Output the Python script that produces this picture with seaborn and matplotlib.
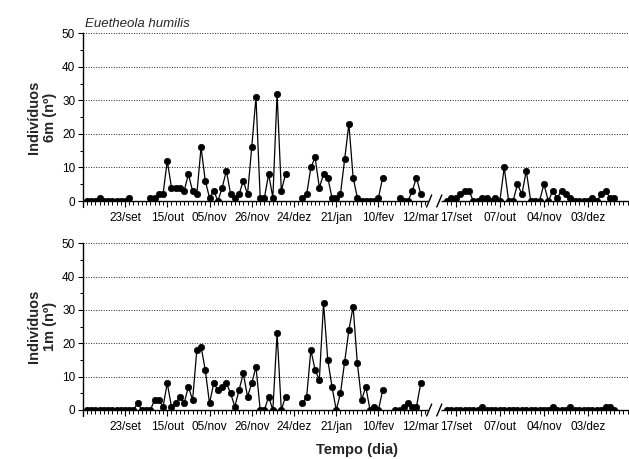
import numpy as np
import pandas as pd
import matplotlib
matplotlib.use("Agg")
import matplotlib.pyplot as plt
import matplotlib.transforms as mtransforms
from matplotlib.ticker import FixedLocator
import seaborn as sns

nan = np.nan

# ---------------- data ----------------
# Season 1: 80 consecutive sampling days (index 0..79), NaN = no sample
top_season1 = [0, 0, 0, 1, 0, 0, 0, 0, 0, 0, 1,
               nan, nan, nan, nan,
               1, 1, 2, 2, 12, 4, 4, 4, 3, 8, 3, 2, 16, 6, 1, 3, 0, 4, 9, 2,
               1, 2, 6, 2, 16, 31, 1, 1, 8, 1, 32, 3, 8,
               nan, nan, nan,
               1, 2, 10, 13, 4, 8, 7, 1, 1, 2, 12.5, 23, 7, 1, 0, 0, 0, 0, 1, 7,
               nan, nan, nan,
               1, 0, 0, 3, 7, 2]
bottom_season1 = [0, 0, 0, 0, 0, 0, 0, 0, 0, 0, 0, 0, 2, 0, 0, 0,
                  3, 3, 1, 8, 1, 2, 4, 2, 7, 3, 18, 19, 12, 2, 8, 6, 7, 8, 5,
                  1, 6, 11, 4, 8, 13, 0, 0, 4, 0, 23, 0, 4,
                  nan, nan, nan,
                  2, 4, 18, 12, 9, 32, 15, 7, 0, 5, 14.5, 24, 31, 14, 3, 7, 0, 1, 0, 6,
                  nan, nan,
                  0, 0, 1, 2, 1, 1, 8]
# Season 2: 39 consecutive sampling days
top_season2 = [0, 1, 1, 2, 3, 3, 0, 0, 1, 1, 0, 1, 0, 10, 0, 0, 5, 2, 9, 0,
               0, 0, 5, 0, 3, 1, 3, 2, 1, 0, 0, 0, 0, 1, 0, 2, 3, 1, 1]
bottom_season2 = [0, 0, 0, 0, 0, 0, 0, 0, 1, 0, 0, 0, 0, 0, 0, 0, 0, 0, 0, 0,
                  0, 0, 0, 0, 1, 0, 0, 0, 1, 0, 0, 0, 0, 0, 0, 0, 1, 1, 0]

season1_labels = ["23/set", "15/out", "05/nov", "26/nov", "24/dez", "21/jan", "10/fev", "12/mar"]
season2_labels = ["17/set", "07/out", "04/nov", "03/dez"]
panel_ylabels = ["Indivíduos\n6m (nº)", "Indivíduos\n1m (nº)"]
title_text = "Euetheola humilis"
xlabel_text = "Tempo (dia)"

# ---------------- broken-axis position mapping ----------------
S1_MAJOR_FIRST, S1_MAJOR_STEP = 9, 10      # season-1 labelled days
S1_N_MINOR = 81
S2_ZERO = 87.29     # axis position of season-2 day "17/set"
S2_STEP = 1.044     # season-2 spacing relative to season-1 spacing
S2_FIRST = -2       # first season-2 sample relative to "17/set"
S2_LAST_TICK = 39
XLIM = (-0.947, 128.31)
BREAK1, BREAK2 = 81.0, 83.4
SEG1_END, SEG2_START = 80.7, 83.75


def s2_pos(j):
    return S2_ZERO + np.asarray(j, dtype=float) * S2_STEP


def build_frame(s1, s2):
    rows = []
    seg = 0
    for i, v in enumerate(s1):
        if np.isnan(v):
            seg += 1
            continue
        rows.append((float(i), v, seg))
    seg += 1
    for k, v in enumerate(s2):
        if np.isnan(v):
            seg += 1
            continue
        rows.append((float(s2_pos(k + S2_FIRST)), v, seg))
    return pd.DataFrame(rows, columns=["pos", "value", "seg"])


sns.set_style("ticks")
plt.rcParams["font.family"] = ["Liberation Sans", "DejaVu Sans"]

fig = plt.figure(figsize=(6.29, 4.59), dpi=100)
W, H = 629.0, 459.0
ax_top = fig.add_axes([83 / W, 1 - 201 / H, 546 / W, 167.7 / H])
ax_bot = fig.add_axes([83 / W, 1 - 410 / H, 546 / W, 166.7 / H])

major_pos = [S1_MAJOR_FIRST + S1_MAJOR_STEP * n for n in range(len(season1_labels))] + \
            list(s2_pos([10 * n for n in range(len(season2_labels))]))
minor_pos = list(range(S1_N_MINOR)) + list(s2_pos(np.arange(S2_FIRST, S2_LAST_TICK + 1)))
tick_labels = season1_labels + season2_labels

for ax, s1, s2, ylab in [(ax_top, top_season1, top_season2, panel_ylabels[0]),
                         (ax_bot, bottom_season1, bottom_season2, panel_ylabels[1])]:
    df = build_frame(s1, s2)
    for gy in [10, 20, 30, 40, 50]:
        ax.axhline(gy, color="#222222", lw=0.7, ls=(0, (1, 1.6)), clip_on=False, zorder=0.5)
    sns.lineplot(data=df, x="pos", y="value", units="seg", estimator=None, sort=False,
                 color="black", linewidth=0.9, marker="o", markersize=4.6,
                 markeredgecolor="black", markeredgewidth=0.5, legend=False, ax=ax, zorder=3)
    ax.set_xlim(*XLIM)
    ax.set_ylim(0, 50)
    ax.set_xlabel("")
    ax.set_ylabel(ylab, fontsize=10.5, fontweight="bold", linespacing=1.2)
    ax.yaxis.set_label_coords(-0.048, 0.5)

    ax.set_yticks([0, 10, 20, 30, 40, 50])
    ax.yaxis.set_minor_locator(FixedLocator([5, 15, 25, 35, 45]))
    ax.xaxis.set_major_locator(FixedLocator(major_pos))
    ax.set_xticklabels(tick_labels)
    ax.xaxis.set_minor_locator(FixedLocator(minor_pos))

    ax.tick_params(axis="x", which="major", direction="out", length=4.6, width=0.8,
                   labelsize=8.5, pad=3, color="black", labelcolor="black")
    ax.tick_params(axis="x", which="minor", direction="out", length=2.9, width=0.7, color="black")
    ax.tick_params(axis="y", which="major", direction="out", length=3.6, width=0.8,
                   labelsize=8.5, pad=2, color="black", labelcolor="black")
    ax.tick_params(axis="y", which="minor", direction="out", length=2.2, width=0.7, color="black")

    for side in ["top", "right", "bottom"]:
        ax.spines[side].set_visible(False)
    ax.spines["left"].set_linewidth(1.0)
    ax.spines["left"].set_color("black")
    ax.patch.set_alpha(0)

    blend = mtransforms.blended_transform_factory(ax.transData, ax.transAxes)
    ax.plot([XLIM[0], SEG1_END], [0, 0], transform=blend, color="black", lw=1.0,
            clip_on=False, zorder=2, solid_capstyle="butt")
    ax.plot([SEG2_START, XLIM[1]], [0, 0], transform=blend, color="black", lw=1.0,
            clip_on=False, zorder=2, solid_capstyle="butt")
    for b in (BREAK1, BREAK2):
        ax.plot([b - 0.6, b + 0.6], [-0.036, 0.036], transform=blend, color="black",
                lw=1.0, clip_on=False, zorder=2)
    ax.plot([0, 0], [0, -0.036], transform=ax.transAxes, color="black", lw=1.0,
            clip_on=False, zorder=2)

fig.text(85 / W, 1 - 26.7 / H, title_text, style="italic", fontsize=9.5,
         ha="left", va="baseline")
fig.text(356.7 / W, 1 - 450 / H, xlabel_text, fontweight="bold", fontsize=10.5,
         ha="center", va="center")

fig.savefig("out.png", dpi=100)
